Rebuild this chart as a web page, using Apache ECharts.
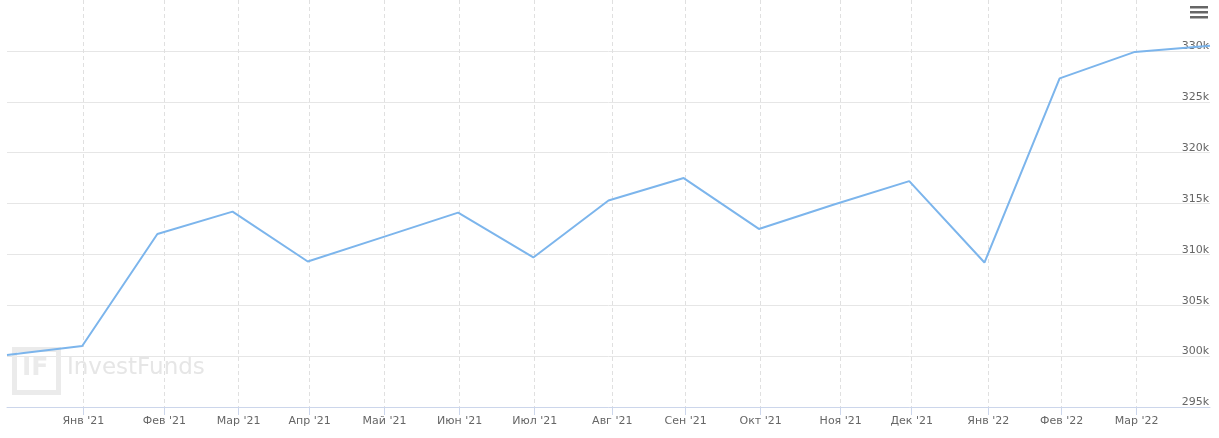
<!DOCTYPE html>
<html>
<head>
<meta charset="utf-8">
<script src="https://cdn.jsdelivr.net/npm/echarts@6/dist/echarts.min.js"></script>
<style>
  html, body { margin: 0; padding: 0; background: #fff; }
  #chart { width: 1219px; height: 438px; }
</style>
</head>
<body>
<div id="chart"></div>
<script>
// values of the series, one per point (points are evenly spaced)
const values = [
  300100, 301000, 312000, 314200, 309300, 311700, 314100, 309700, 315300,
  317500, 312500, 314900, 317200, 309200, 327300, 329900, 330500
]
// month tick labels and where they fall between the points (point index units)
const monthLabels = [
  "Янв '21", "Фев '21", "Мар '21", "Апр '21", "Май '21", "Июн '21", "Июл '21",
  "Авг '21", "Сен '21", "Окт '21", "Ноя '21", "Дек '21", "Янв '22", "Фев '22", "Мар '22"
]
const monthTicks = [
  1.015, 2.092, 3.082, 4.026, 5.021, 6.021, 7.018, 8.05, 9.026, 10.024,
  11.088, 12.032, 13.051, 14.027, 15.025
]
const yTicks = [295000, 300000, 305000, 310000, 315000, 320000, 325000, 330000]

const chart = echarts.init(document.getElementById('chart'))

// имя месяца по значению тика
function monthName(v) {
  let best = 0
  for (let i = 1; i < monthTicks.length; i++) {
    if (Math.abs(monthTicks[i] - v) < Math.abs(monthTicks[best] - v)) best = i
  }
  return monthLabels[best]
}

const font = '"DejaVu Sans", Verdana, sans-serif'

const option = {
  animation: false,
  grid: {
    left: 7,
    right: 9,
    top: 0,
    bottom: 31
  },
  xAxis: {
    type: 'value',
    min: 0,
    max: values.length - 1,
    axisLine: {
      show: true,
      lineStyle: { color: '#ccd6eb', width: 1 }
    },
    axisTick: {
      show: true,
      length: 8,
      customValues: monthTicks,
      lineStyle: { color: '#ccd6eb' }
    },
    axisLabel: {
      customValues: monthTicks,
      formatter: monthName,
      color: '#666666',
      fontSize: 11,
      fontFamily: font,
      margin: 9
    },
    splitLine: {
      show: true,
      lineStyle: { color: '#e0e0e0', type: [4, 3] }
    }
  },
  yAxis: {
    type: 'value',
    position: 'right',
    min: 295000,
    max: 335000,
    interval: 5000,
    axisLine: { show: false },
    axisTick: { show: false, customValues: yTicks },
    axisLabel: {
      customValues: yTicks,
      inside: true,
      margin: 1,
      verticalAlign: 'bottom',
      padding: [0, 0, -1, 0],
      color: '#666666',
      fontSize: 11,
      fontFamily: font,
      formatter: (v) => Math.round(v / 1000) + 'k'
    },
    splitLine: {
      show: true,
      lineStyle: { color: '#e6e6e6' }
    }
  },
  graphic: [
    // watermark
    {
      type: 'rect',
      left: 12,
      top: 347,
      shape: { width: 44, height: 43 },
      style: { fill: 'none', stroke: '#ebebeb', lineWidth: 5 },
      z: 1
    },
    {
      type: 'text',
      left: 22,
      top: 356,
      style: { text: 'IF', fill: '#ebebeb', font: 'bold 25px ' + font },
      z: 1
    },
    {
      type: 'text',
      left: 67,
      top: 357,
      style: { text: 'InvestFunds', fill: '#e6e6e6', font: '23px ' + font },
      z: 1
    },
    // menu icon
    { type: 'rect', left: 1190, top: 6, shape: { width: 18, height: 2.5 }, style: { fill: '#666' } },
    { type: 'rect', left: 1190, top: 11, shape: { width: 18, height: 2.5 }, style: { fill: '#666' } },
    { type: 'rect', left: 1190, top: 16, shape: { width: 18, height: 2.5 }, style: { fill: '#666' } }
  ],
  series: [
    {
      type: 'line',
      data: values.map((v, i) => [i, v]),
      showSymbol: false,
      clip: false,
      lineStyle: { color: '#7cb5ec', width: 2 },
      itemStyle: { color: '#7cb5ec' }
    }
  ]
}

chart.setOption(option)
</script>
</body>
</html>
